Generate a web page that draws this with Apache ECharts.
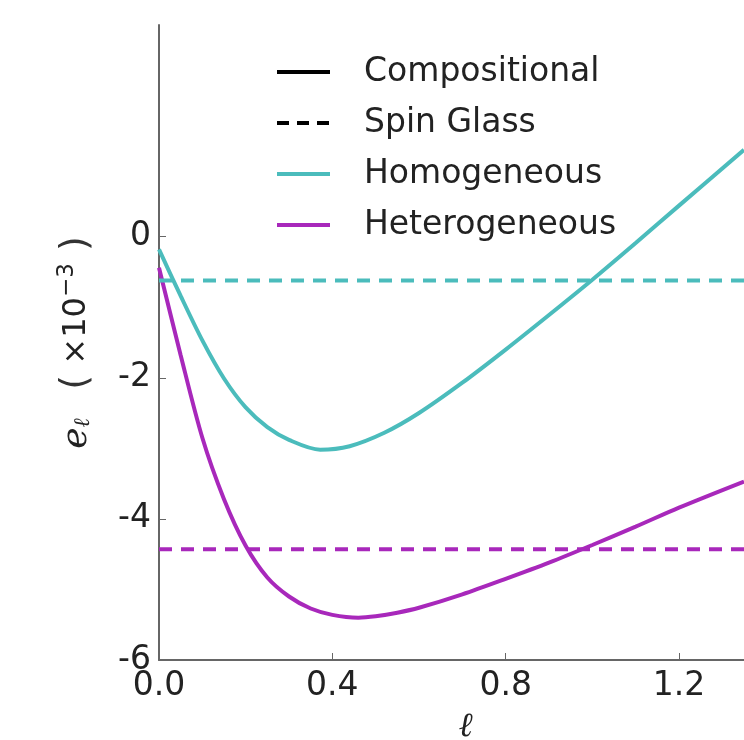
<!DOCTYPE html>
<html>
<head>
	<meta charset="utf-8">
	<title>e_l vs l</title>
	<script src="https://cdn.jsdelivr.net/npm/echarts@6/dist/echarts.min.js"></script>
	<style>
		html, body { margin: 0; padding: 0; background: #fff; }
		#main { width: 744px; height: 740px; }
	</style>
</head>
<body>
<div id="main"></div>
<script type="text/javascript">
	// values (energy in units of 1e-3)
	var homX = [0.0, 0.05, 0.1, 0.15, 0.2, 0.25, 0.3, 0.372, 0.44, 0.52, 0.6, 0.7, 0.8, 0.9, 1.0, 1.1, 1.2, 1.35];
	var homY = [-0.18, -0.84, -1.47, -2.01, -2.42, -2.70, -2.88, -3.02, -2.97, -2.78, -2.50, -2.07, -1.60, -1.11, -0.61, -0.09, 0.44, 1.23];
	var hetX = [0.0, 0.05, 0.1, 0.15, 0.2, 0.25, 0.3, 0.35, 0.4, 0.46, 0.5, 0.55, 0.6, 0.7, 0.8, 0.9, 1.0, 1.1, 1.2, 1.35];
	var hetY = [-0.44, -1.68, -2.85, -3.72, -4.38, -4.83, -5.10, -5.27, -5.36, -5.40, -5.38, -5.33, -5.26, -5.07, -4.85, -4.62, -4.37, -4.11, -3.84, -3.47];
	var spinGlassHom = -0.62;
	var spinGlassHet = -4.43;
	var xTicks = [0, 0.4, 0.8, 1.2];
	var yTicks = [-6, -4, -2, 0];
	var legendNames = ['Compositional', 'Spin Glass', 'Homogeneous', 'Heterogeneous'];

	var cyan = '#4bbcbc', magenta = '#a828bb';
	var xMin = 0, xMax = 1.35;

	function pairs(xs, ys) {
		var out = [];
		for (var i = 0; i < xs.length; i++) out.push([xs[i], ys[i]]);
		return out;
	}

	var myChart = echarts.init(document.getElementById('main'));
	var sans = 'DejaVu Sans';
	var option = {
		animation: false,
		grid: { left: 159, right: 0, top: 25, bottom: 80, containLabel: false, outerBoundsMode: 'none' },
		legend: {
			data: legendNames,
			orient: 'vertical',
			left: 270,
			top: 47,
			itemWidth: 53,
			itemHeight: 14,
			itemGap: 11,
			itemStyle: { opacity: 0 },
			lineStyle: { width: 4 },
			textStyle: { fontFamily: sans, fontSize: 33, color: '#222', padding: [0, 0, 0, 29], lineHeight: 40 },
			selectedMode: false
		},
		xAxis: {
			type: 'value', min: xMin, max: xMax,
			splitLine: { show: false },
			axisLine: { onZero: false, lineStyle: { color: '#666', width: 2 } },
			axisTick: { inside: true, length: 7, customValues: xTicks, lineStyle: { color: '#666' } },
			axisLabel: {
				customValues: xTicks, margin: 10,
				fontFamily: sans, fontSize: 33, color: '#222',
				formatter: function (v) { return v.toFixed(1); }
			},
			name: 'ℓ', nameLocation: 'middle', nameGap: 50,
			nameTextStyle: { fontFamily: 'DejaVu Serif', fontStyle: 'italic', fontSize: 34, color: '#222', padding: [0, 0, 0, 28] }
		},
		yAxis: {
			type: 'value', min: -6, max: 3,
			splitLine: { show: false },
			axisLine: { onZero: false, lineStyle: { color: '#666', width: 2 } },
			axisTick: { inside: true, length: 7, customValues: yTicks, lineStyle: { color: '#666' } },
			axisLabel: {
				customValues: yTicks, margin: 8,
				fontFamily: sans, fontSize: 33, color: '#222'
			},
			name: '{e|e}{sub|ℓ}{sp|   }{par|(}{t| ×10}{sup|−3}{par| )}',
			nameLocation: 'middle', nameRotate: 90, nameGap: 62,
			nameTextStyle: {
				color: '#222',
				rich: {
					e: { fontFamily: 'DejaVu Serif', fontStyle: 'italic', fontSize: 36, color: '#222' },
					sub: { fontFamily: 'DejaVu Serif', fontStyle: 'italic', fontSize: 22, color: '#222', padding: [14, 0, 0, 0] },
					sp: { fontFamily: sans, fontSize: 30 },
					par: { fontFamily: sans, fontSize: 38, color: '#333' },
					t: { fontFamily: sans, fontSize: 32, color: '#222' },
					sup: { fontFamily: sans, fontSize: 23, color: '#222', padding: [0, 0, 18, 0] }
				}
			}
		},
		series: [
			{ name: 'Compositional', type: 'line', data: [], symbol: 'none', color: '#000',
				lineStyle: { color: '#000', width: 4 } },
			{ name: 'Spin Glass', type: 'line', data: [], symbol: 'none', color: '#000',
				lineStyle: { color: '#000', width: 4, type: [12, 8] } },
			{ name: 'Homogeneous', type: 'line', data: pairs(homX, homY), symbol: 'none', smooth: 0.3, color: cyan,
				lineStyle: { color: cyan, width: 4 } },
			{ name: 'Heterogeneous', type: 'line', data: pairs(hetX, hetY), symbol: 'none', smooth: 0.3, color: magenta,
				lineStyle: { color: magenta, width: 4 } },
			{ name: 'Homogeneous SG', type: 'line', data: [[xMin, spinGlassHom], [xMax, spinGlassHom]], symbol: 'none', color: cyan,
				lineStyle: { color: cyan, width: 4, type: [13, 9] } },
			{ name: 'Heterogeneous SG', type: 'line', data: [[xMin, spinGlassHet], [xMax, spinGlassHet]], symbol: 'none', color: magenta,
				lineStyle: { color: magenta, width: 4, type: [13, 9] } }
		]
	};
	myChart.setOption(option);
</script>
</body>
</html>
